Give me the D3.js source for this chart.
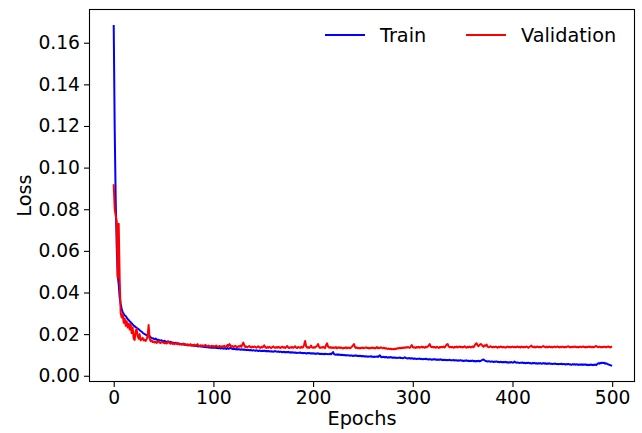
<!DOCTYPE html>
<html>
<head>
<meta charset="utf-8">
<script src="https://cdn.jsdelivr.net/npm/d3@7"></script>
<style>
  body { margin: 0; background: #fff; }
  svg text { font-family: "DejaVu Sans", sans-serif; fill: #000; }
</style>
</head>
<body>
<div id="chart"></div>
<script>
// Loss per epoch (index = epoch)
const trainLoss = [
  0.1680, 0.1180, 0.0840, 0.0620, 0.0480, 0.0440, 0.0375, 0.0345, 0.0322, 0.0305,
  0.0298, 0.0290, 0.0287, 0.0280, 0.0272, 0.0268, 0.0261, 0.0258, 0.0252, 0.0247,
  0.0241, 0.0238, 0.0233, 0.0231, 0.0226, 0.0224, 0.0219, 0.0215, 0.0212, 0.0207,
  0.0203, 0.0200, 0.0198, 0.0194, 0.0192, 0.0188, 0.0190, 0.0185, 0.0182, 0.0180,
  0.0178, 0.0176, 0.0179, 0.0174, 0.0172, 0.0173, 0.0170, 0.0169, 0.0171, 0.0167,
  0.0166, 0.0168, 0.0164, 0.0163, 0.0165, 0.0162, 0.0161, 0.0163, 0.0159, 0.0160,
  0.0158, 0.0157, 0.0159, 0.0155, 0.0156, 0.0154, 0.0155, 0.0152, 0.0153, 0.0151,
  0.0150, 0.0152, 0.0149, 0.0148, 0.0150, 0.0147, 0.0146, 0.0148, 0.0145, 0.0146,
  0.0144, 0.0145, 0.0143, 0.0144, 0.0142, 0.0141, 0.0143, 0.0140, 0.0141, 0.0139,
  0.0140, 0.0138, 0.0139, 0.0137, 0.0138, 0.0136, 0.0137, 0.0135, 0.0136, 0.0134,
  0.0135, 0.0134, 0.0136, 0.0133, 0.0134, 0.0132, 0.0134, 0.0131, 0.0133, 0.0132,
  0.0130, 0.0132, 0.0131, 0.0129, 0.0133, 0.0130, 0.0131, 0.0135, 0.0132, 0.0129,
  0.0128, 0.0130, 0.0127, 0.0129, 0.0126, 0.0128, 0.0127, 0.0125, 0.0127, 0.0126,
  0.0124, 0.0126, 0.0125, 0.0123, 0.0125, 0.0124, 0.0122, 0.0124, 0.0123, 0.0121,
  0.0123, 0.0122, 0.0120, 0.0122, 0.0121, 0.0119, 0.0121, 0.0120, 0.0118, 0.0120,
  0.0119, 0.0121, 0.0118, 0.0119, 0.0117, 0.0119, 0.0118, 0.0116, 0.0118, 0.0117,
  0.0115, 0.0117, 0.0119, 0.0116, 0.0115, 0.0117, 0.0114, 0.0116, 0.0115, 0.0113,
  0.0115, 0.0114, 0.0112, 0.0114, 0.0113, 0.0115, 0.0112, 0.0113, 0.0111, 0.0113,
  0.0112, 0.0110, 0.0112, 0.0111, 0.0109, 0.0111, 0.0110, 0.0112, 0.0109, 0.0110,
  0.0108, 0.0110, 0.0109, 0.0107, 0.0109, 0.0108, 0.0110, 0.0107, 0.0108, 0.0106,
  0.0108, 0.0107, 0.0105, 0.0107, 0.0106, 0.0108, 0.0105, 0.0106, 0.0104, 0.0106,
  0.0105, 0.0103, 0.0106, 0.0104, 0.0105, 0.0103, 0.0104, 0.0106, 0.0103, 0.0108,
  0.0114, 0.0104, 0.0102, 0.0101, 0.0103, 0.0100, 0.0102, 0.0101, 0.0099, 0.0101,
  0.0100, 0.0098, 0.0100, 0.0099, 0.0097, 0.0099, 0.0098, 0.0096, 0.0098, 0.0097,
  0.0095, 0.0097, 0.0096, 0.0098, 0.0095, 0.0096, 0.0094, 0.0096, 0.0095, 0.0093,
  0.0095, 0.0094, 0.0092, 0.0094, 0.0093, 0.0091, 0.0093, 0.0092, 0.0094, 0.0091,
  0.0092, 0.0090, 0.0092, 0.0091, 0.0093, 0.0090, 0.0095, 0.0098, 0.0091, 0.0089,
  0.0091, 0.0090, 0.0088, 0.0090, 0.0089, 0.0087, 0.0089, 0.0088, 0.0090, 0.0087,
  0.0088, 0.0086, 0.0088, 0.0087, 0.0085, 0.0087, 0.0086, 0.0088, 0.0085, 0.0086,
  0.0084, 0.0086, 0.0089, 0.0085, 0.0084, 0.0083, 0.0085, 0.0084, 0.0082, 0.0084,
  0.0083, 0.0081, 0.0083, 0.0082, 0.0080, 0.0082, 0.0081, 0.0083, 0.0080, 0.0081,
  0.0079, 0.0081, 0.0080, 0.0082, 0.0079, 0.0080, 0.0078, 0.0080, 0.0079, 0.0077,
  0.0079, 0.0078, 0.0080, 0.0077, 0.0078, 0.0076, 0.0078, 0.0077, 0.0079, 0.0076,
  0.0077, 0.0075, 0.0077, 0.0076, 0.0074, 0.0076, 0.0075, 0.0077, 0.0074, 0.0075,
  0.0074, 0.0076, 0.0073, 0.0075, 0.0074, 0.0072, 0.0074, 0.0073, 0.0075, 0.0072,
  0.0073, 0.0071, 0.0073, 0.0072, 0.0074, 0.0071, 0.0072, 0.0070, 0.0072, 0.0071,
  0.0073, 0.0070, 0.0071, 0.0069, 0.0071, 0.0070, 0.0072, 0.0069, 0.0071, 0.0074,
  0.0077, 0.0078, 0.0074, 0.0071, 0.0070, 0.0068, 0.0070, 0.0069, 0.0067, 0.0069,
  0.0068, 0.0066, 0.0068, 0.0067, 0.0069, 0.0066, 0.0067, 0.0065, 0.0067, 0.0066,
  0.0064, 0.0066, 0.0065, 0.0067, 0.0064, 0.0065, 0.0063, 0.0065, 0.0064, 0.0066,
  0.0063, 0.0064, 0.0068, 0.0065, 0.0062, 0.0064, 0.0063, 0.0061, 0.0063, 0.0062,
  0.0064, 0.0061, 0.0062, 0.0060, 0.0062, 0.0061, 0.0063, 0.0060, 0.0061, 0.0059,
  0.0061, 0.0060, 0.0062, 0.0059, 0.0060, 0.0058, 0.0060, 0.0059, 0.0061, 0.0058,
  0.0059, 0.0061, 0.0058, 0.0060, 0.0057, 0.0059, 0.0058, 0.0060, 0.0057, 0.0058,
  0.0056, 0.0058, 0.0057, 0.0059, 0.0056, 0.0057, 0.0055, 0.0057, 0.0056, 0.0058,
  0.0055, 0.0057, 0.0056, 0.0054, 0.0056, 0.0055, 0.0057, 0.0054, 0.0055, 0.0053,
  0.0055, 0.0054, 0.0056, 0.0053, 0.0055, 0.0054, 0.0052, 0.0054, 0.0053, 0.0055,
  0.0052, 0.0054, 0.0053, 0.0055, 0.0052, 0.0053, 0.0051, 0.0053, 0.0052, 0.0054,
  0.0051, 0.0053, 0.0052, 0.0054, 0.0051, 0.0056, 0.0060, 0.0058, 0.0062, 0.0060,
  0.0063, 0.0061, 0.0062, 0.0058, 0.0060, 0.0057, 0.0055, 0.0053, 0.0051, 0.0049
]

const valLoss = [
  0.0915, 0.0800, 0.0770, 0.0740, 0.0470, 0.0730, 0.0460, 0.0300, 0.0280, 0.0295,
  0.0255, 0.0275, 0.0240, 0.0262, 0.0232, 0.0250, 0.0222, 0.0248, 0.0205, 0.0232,
  0.0178, 0.0172, 0.0215, 0.0225, 0.0190, 0.0178, 0.0200, 0.0170, 0.0176, 0.0182,
  0.0170, 0.0174, 0.0167, 0.0176, 0.0188, 0.0244, 0.0180, 0.0166, 0.0170, 0.0162,
  0.0165, 0.0160, 0.0164, 0.0158, 0.0162, 0.0166, 0.0159, 0.0157, 0.0161, 0.0163,
  0.0158, 0.0156, 0.0160, 0.0155, 0.0159, 0.0166, 0.0157, 0.0154, 0.0158, 0.0153,
  0.0156, 0.0152, 0.0155, 0.0158, 0.0151, 0.0154, 0.0150, 0.0153, 0.0149, 0.0152,
  0.0155, 0.0148, 0.0151, 0.0149, 0.0146, 0.0150, 0.0147, 0.0152, 0.0145, 0.0148,
  0.0146, 0.0150, 0.0144, 0.0147, 0.0152, 0.0145, 0.0143, 0.0147, 0.0144, 0.0146,
  0.0142, 0.0145, 0.0148, 0.0143, 0.0141, 0.0145, 0.0142, 0.0140, 0.0144, 0.0141,
  0.0143, 0.0139, 0.0142, 0.0145, 0.0140, 0.0138, 0.0143, 0.0141, 0.0139, 0.0142,
  0.0140, 0.0144, 0.0138, 0.0141, 0.0148, 0.0142, 0.0152, 0.0147, 0.0139, 0.0143,
  0.0138, 0.0141, 0.0144, 0.0139, 0.0137, 0.0142, 0.0140, 0.0145, 0.0139, 0.0150,
  0.0159, 0.0146, 0.0138, 0.0141, 0.0137, 0.0140, 0.0143, 0.0138, 0.0136, 0.0140,
  0.0137, 0.0141, 0.0139, 0.0135, 0.0138, 0.0142, 0.0137, 0.0134, 0.0139, 0.0136,
  0.0140, 0.0146, 0.0137, 0.0134, 0.0138, 0.0135, 0.0139, 0.0136, 0.0133, 0.0137,
  0.0141, 0.0136, 0.0134, 0.0138, 0.0135, 0.0139, 0.0137, 0.0133, 0.0136, 0.0140,
  0.0135, 0.0138, 0.0134, 0.0137, 0.0143, 0.0136, 0.0133, 0.0137, 0.0135, 0.0139,
  0.0134, 0.0137, 0.0142, 0.0135, 0.0133, 0.0138, 0.0136, 0.0134, 0.0139, 0.0135,
  0.0137, 0.0150, 0.0167, 0.0142, 0.0135, 0.0138, 0.0134, 0.0137, 0.0145, 0.0136,
  0.0134, 0.0138, 0.0135, 0.0140, 0.0144, 0.0152, 0.0138, 0.0134, 0.0137, 0.0135,
  0.0139, 0.0136, 0.0133, 0.0148, 0.0156, 0.0140, 0.0135, 0.0138, 0.0134, 0.0137,
  0.0133, 0.0136, 0.0134, 0.0138, 0.0132, 0.0135, 0.0137, 0.0133, 0.0136, 0.0134,
  0.0131, 0.0135, 0.0133, 0.0137, 0.0132, 0.0134, 0.0136, 0.0132, 0.0135, 0.0140,
  0.0146, 0.0152, 0.0138, 0.0133, 0.0136, 0.0132, 0.0134, 0.0131, 0.0135, 0.0133,
  0.0136, 0.0132, 0.0134, 0.0137, 0.0133, 0.0135, 0.0131, 0.0134, 0.0132, 0.0136,
  0.0133, 0.0135, 0.0131, 0.0134, 0.0138, 0.0132, 0.0135, 0.0133, 0.0137, 0.0134,
  0.0132, 0.0135, 0.0131, 0.0133, 0.0130, 0.0129, 0.0131, 0.0128, 0.0130, 0.0127,
  0.0129, 0.0127, 0.0130, 0.0128, 0.0131, 0.0133, 0.0131, 0.0134, 0.0132, 0.0135,
  0.0133, 0.0136, 0.0134, 0.0137, 0.0135, 0.0138, 0.0136, 0.0134, 0.0140, 0.0147,
  0.0138, 0.0135, 0.0137, 0.0134, 0.0138, 0.0136, 0.0139, 0.0135, 0.0137, 0.0140,
  0.0136, 0.0138, 0.0135, 0.0139, 0.0137, 0.0141, 0.0145, 0.0152, 0.0140, 0.0137,
  0.0139, 0.0136, 0.0138, 0.0135, 0.0139, 0.0137, 0.0134, 0.0138, 0.0136, 0.0139,
  0.0137, 0.0140, 0.0136, 0.0143, 0.0150, 0.0152, 0.0141, 0.0137, 0.0139, 0.0136,
  0.0138, 0.0135, 0.0139, 0.0137, 0.0140, 0.0136, 0.0138, 0.0141, 0.0137, 0.0139,
  0.0136, 0.0138, 0.0142, 0.0137, 0.0135, 0.0139, 0.0137, 0.0140, 0.0136, 0.0138,
  0.0141, 0.0137, 0.0145, 0.0153, 0.0156, 0.0146, 0.0142, 0.0148, 0.0152, 0.0150,
  0.0143, 0.0139, 0.0146, 0.0144, 0.0150, 0.0140, 0.0137, 0.0139, 0.0142, 0.0138,
  0.0136, 0.0139, 0.0137, 0.0140, 0.0138, 0.0135, 0.0139, 0.0137, 0.0141, 0.0138,
  0.0136, 0.0139, 0.0137, 0.0135, 0.0138, 0.0140, 0.0137, 0.0139, 0.0136, 0.0138,
  0.0140, 0.0137, 0.0139, 0.0136, 0.0138, 0.0141, 0.0137, 0.0139, 0.0136, 0.0140,
  0.0138, 0.0136, 0.0139, 0.0137, 0.0140, 0.0138, 0.0135, 0.0139, 0.0141, 0.0145,
  0.0139, 0.0137, 0.0140, 0.0136, 0.0138, 0.0141, 0.0137, 0.0139, 0.0136, 0.0138,
  0.0140, 0.0143, 0.0139, 0.0137, 0.0140, 0.0136, 0.0138, 0.0141, 0.0137, 0.0139,
  0.0136, 0.0138, 0.0140, 0.0137, 0.0139, 0.0141, 0.0138, 0.0136, 0.0139, 0.0137,
  0.0140, 0.0138, 0.0136, 0.0139, 0.0137, 0.0140, 0.0142, 0.0138, 0.0136, 0.0139,
  0.0137, 0.0140, 0.0138, 0.0141, 0.0137, 0.0139, 0.0136, 0.0138, 0.0140, 0.0137,
  0.0139, 0.0141, 0.0138, 0.0136, 0.0139, 0.0137, 0.0140, 0.0138, 0.0141, 0.0137,
  0.0139, 0.0136, 0.0138, 0.0141, 0.0143, 0.0139, 0.0137, 0.0140, 0.0138, 0.0136,
  0.0139, 0.0137, 0.0140, 0.0138, 0.0136, 0.0139, 0.0141, 0.0138, 0.0136, 0.0139
]

const seriesNames = ["Train", "Validation"]
const seriesColors = ["#0000ff", "#ff0000"]
const xTicks = [0, 100, 200, 300, 400, 500]
const yTicks = [0.00, 0.02, 0.04, 0.06, 0.08, 0.10, 0.12, 0.14, 0.16]

const _WIDTH = 642
const _HEIGHT = 433
const _PLOT = { left: 89, right: 635, top: 9, bottom: 382 }
const _TICK_FONT = 18.7
const _LABEL_FONT = 19.3

const svg = d3.select("#chart")
    .append("svg")
    .attr("width", _WIDTH)
    .attr("height", _HEIGHT)

const xScale = d3.scaleLinear().domain([-24.8, 522.9]).range([_PLOT.left, _PLOT.right])
const yScale = d3.scaleLinear().domain([-0.0030, 0.1762]).range([_PLOT.bottom, _PLOT.top])

// Lines
// ===================================
const line = d3.line()
    .x((d, i) => xScale(i))
    .y(d => yScale(d))

svg.append("clipPath").attr("id", "clip")
    .append("rect")
    .attr("x", _PLOT.left).attr("y", _PLOT.top)
    .attr("width", _PLOT.right - _PLOT.left)
    .attr("height", _PLOT.bottom - _PLOT.top)
const plot = svg.append("g")
    .attr("clip-path", "url(#clip)")

;[trainLoss, valLoss].forEach((data, k) => {
    plot.append("path")
        .datum(data)
        .attr("fill", "none")
        .attr("stroke", seriesColors[k])
        .attr("stroke-width", 2)
        .attr("stroke-linejoin", "round")
        .attr("stroke-linecap", "square")
        .attr("d", line)
})

// Axes & frame
// ===================================
const xAxis = svg.append("g")
    .attr("transform", `translate(0,${_PLOT.bottom})`)
    .call(d3.axisBottom(xScale).tickValues(xTicks).tickSize(5).tickPadding(4))
xAxis.select(".domain").remove()
xAxis.selectAll("text").attr("font-size", _TICK_FONT).attr("font-family", "DejaVu Sans")

const yAxis = svg.append("g")
    .attr("transform", `translate(${_PLOT.left},0)`)
    .call(d3.axisLeft(yScale).tickValues(yTicks).tickFormat(d3.format(".2f")).tickSize(5).tickPadding(4))
yAxis.select(".domain").remove()
yAxis.selectAll("text").attr("font-size", _TICK_FONT).attr("font-family", "DejaVu Sans")
svg.selectAll(".tick line").attr("stroke", "#000").attr("stroke-width", 1.1)

svg.append("rect")
    .attr("x", _PLOT.left + 0.5).attr("y", _PLOT.top + 0.5)
    .attr("width", _PLOT.right - _PLOT.left - 1)
    .attr("height", _PLOT.bottom - _PLOT.top - 1)
    .attr("fill", "none")
    .attr("stroke", "#000")
    .attr("stroke-width", 1.1)

svg.append("text")
    .attr("x", (_PLOT.left + _PLOT.right) / 2)
    .attr("y", 425)
    .attr("text-anchor", "middle")
    .attr("font-size", _LABEL_FONT)
    .text("Epochs")

svg.append("text")
    .attr("transform", `translate(31,${(_PLOT.top + _PLOT.bottom) / 2})rotate(-90)`)
    .attr("text-anchor", "middle")
    .attr("font-size", _LABEL_FONT)
    .text("Loss")

// Legend
// ===================================
const legendX = [325, 466]
const legend = svg.append("g")
seriesNames.forEach((name, k) => {
    legend.append("line")
        .attr("x1", legendX[k]).attr("x2", legendX[k] + 40)
        .attr("y1", 35).attr("y2", 35)
        .attr("stroke", seriesColors[k])
        .attr("stroke-width", 2)
    legend.append("text")
        .attr("x", legendX[k] + 55)
        .attr("y", 42)
        .attr("font-size", _LABEL_FONT)
        .text(name)
})
</script>
</body>
</html>
